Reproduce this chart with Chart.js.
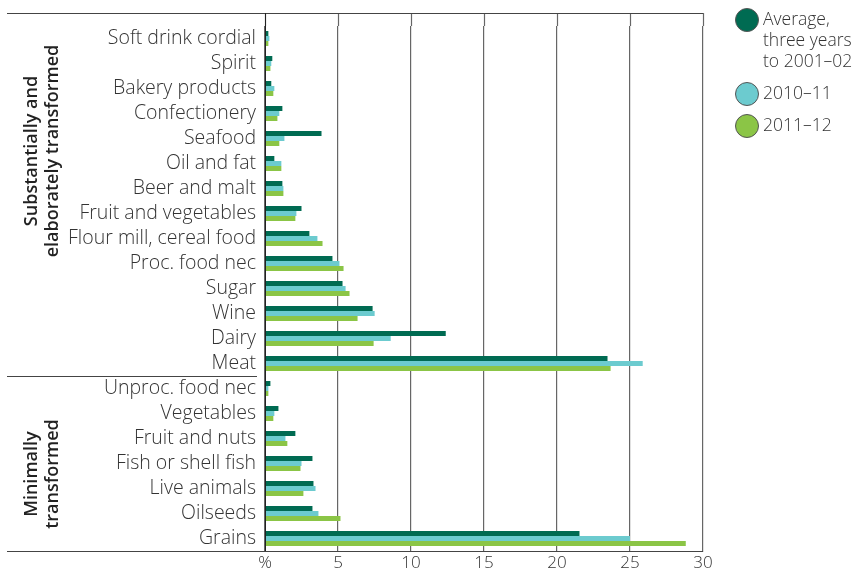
<!DOCTYPE html>
<html>
<head>
<meta charset="utf-8">
<script src="https://cdn.jsdelivr.net/npm/chart.js@4"></script>
<style>
	body { margin: 0; background: #fff; }
	#wrap { position: relative; width: 856px; height: 574px; }
	#legend { position: absolute; left: 735px; top: 8px; font-family: "Open Sans", sans-serif; font-weight: 300; font-size: 17.5px; color: #333; line-height: 21px; white-space: nowrap; }
	#legend .item { position: relative; padding-left: 28px; margin-bottom: 11px; }
	#legend .dot { position: absolute; left: 0; top: 0px; width: 24px; height: 24px; border-radius: 50%; border: 1px solid #555; box-sizing: border-box; }
</style>
</head>
<body>
<div id="wrap">
	<canvas id="chart" width="856" height="574"></canvas>
	<div id="legend"></div>
</div>
<script>
// 類別與數值
const categories = [
	"Soft drink cordial", "Spirit", "Bakery products", "Confectionery", "Seafood",
	"Oil and fat", "Beer and malt", "Fruit and vegetables", "Flour mill, cereal food",
	"Proc. food nec", "Sugar", "Wine", "Dairy", "Meat",
	"Unproc. food nec", "Vegetables", "Fruit and nuts", "Fish or shell fish",
	"Live animals", "Oilseeds", "Grains"
];
const avgThreeYears = [0.23, 0.5, 0.43, 1.19, 3.87, 0.64, 1.19, 2.5, 3.04, 4.62, 5.31, 7.37, 12.38, 23.46,
	0.37, 0.92, 2.08, 3.25, 3.32, 3.25, 21.54];
const y2010 = [0.3, 0.43, 0.64, 0.98, 1.33, 1.12, 1.26, 2.15, 3.59, 5.1, 5.52, 7.51, 8.61, 25.87,
	0.23, 0.64, 1.4, 2.5, 3.46, 3.66, 25.0];
const y2011 = [0.23, 0.37, 0.57, 0.85, 0.98, 1.12, 1.26, 2.08, 3.94, 5.38, 5.79, 6.34, 7.44, 23.67,
	0.23, 0.57, 1.53, 2.43, 2.63, 5.17, 28.82];
const seriesNames = [["Average,", "three years", "to 2001\u201302"], ["2010\u201311"], ["2011\u201312"]];
const seriesColors = ["#006b52", "#6ccbcf", "#8bc546"];
const groupLines = [["Substantially and", "elaborately transformed"], ["Minimally", "transformed"]];
const xTicks = [0, 5, 10, 15, 20, 25, 30];

const FONT = "'Open Sans', sans-serif";

// 圖例
const legendEl = document.getElementById("legend");
seriesNames.forEach((name, i) => {
	const d = document.createElement("div");
	d.className = "item";
	d.innerHTML = '<span class="dot" style="background:' + seriesColors[i] + '"></span>' + name.join("<br>");
	legendEl.appendChild(d);
});

// 額外線條與群組標籤
const decor = {
	id: "decor",
	beforeDatasetsDraw(chart) {
		const { ctx, chartArea, scales } = chart;
		ctx.save();
		ctx.strokeStyle = "#666";
		ctx.lineWidth = 1.2;
		xTicks.forEach((v) => {
			const px = Math.round(scales.x.getPixelForValue(v)) + 0.5;
			ctx.beginPath();
			ctx.moveTo(px, 13);
			ctx.lineTo(px, chartArea.top);
			ctx.stroke();
		});
		ctx.restore();
	},
	afterDraw(chart) {
		const { ctx, chartArea, scales } = chart;
		const y = scales.y;
		ctx.save();
		ctx.strokeStyle = "#444";
		ctx.lineWidth = 1;
		// 上緣線
		ctx.beginPath();
		ctx.moveTo(7, 13.5);
		ctx.lineTo(chartArea.right, 13.5);
		ctx.stroke();
		// 下緣線
		ctx.beginPath();
		ctx.moveTo(7, Math.round(chartArea.bottom) + 0.5);
		ctx.lineTo(chartArea.left, Math.round(chartArea.bottom) + 0.5);
		ctx.stroke();
		// 群組分隔線
		const sep = Math.round((y.getPixelForValue(13) + y.getPixelForValue(14)) / 2) + 0.5;
		ctx.beginPath();
		ctx.moveTo(7, sep);
		ctx.lineTo(257, sep);
		ctx.stroke();
		// 零線
		const x0 = Math.round(scales.x.getPixelForValue(0)) + 0.5;
		ctx.strokeStyle = "#222";
		ctx.beginPath();
		ctx.moveTo(x0, 13);
		ctx.lineTo(x0, chartArea.bottom);
		ctx.stroke();
		// 群組標籤（位置對齊原圖）
		const labelCenters = [
			(y.getPixelForValue(4) + y.getPixelForValue(5)) / 2,
			(y.getPixelForValue(17) + y.getPixelForValue(18)) / 2 - 2
		];
		ctx.fillStyle = "#222";
		ctx.font = "600 18px " + FONT;
		ctx.textAlign = "center";
		ctx.textBaseline = "middle";
		groupLines.forEach((lines, gi) => {
			lines.forEach((line, li) => {
				ctx.save();
				ctx.translate(32 + li * 21, labelCenters[gi]);
				ctx.rotate(-Math.PI / 2);
				ctx.fillText(line, 0, 0);
				ctx.restore();
			});
		});
		ctx.restore();
	}
};

const ctx1 = document.getElementById("chart");
const data1 = {
	labels: categories,
	datasets: [avgThreeYears, y2010, y2011].map((vals, i) => ({
		label: seriesNames[i].join(" "),
		data: vals,
		backgroundColor: seriesColors[i],
		borderWidth: 0,
		categoryPercentage: 0.6,
		barPercentage: 1
	}))
};
const config1 = {
	type: "bar",
	data: data1,
	options: {
		indexAxis: "y",
		responsive: false,
		animation: false,
		layout: { padding: { top: 26, right: 153, bottom: 0, left: 0 } },
		scales: {
			x: {
				min: 0,
				max: 30,
				afterBuildTicks: (axis) => { axis.ticks = xTicks.map((v) => ({ value: v })); },
				afterFit: (axis) => { axis.height = 23; },
				grid: { color: "#666", lineWidth: 1.2, drawTicks: false },
				border: { display: true, color: "#444", width: 1 },
				ticks: {
					padding: 2,
					color: "#333",
					font: { family: FONT, size: 17, weight: 300 },
					callback: (value) => value === 0 ? "%" : value
				}
			},
			y: {
				afterFit: (axis) => { axis.width = 265; },
				grid: { display: false, drawTicks: false },
				border: { display: false },
				ticks: {
					padding: 9,
					color: "#333",
					font: { family: FONT, size: 19.5, weight: 300 },
					autoSkip: false
				}
			}
		},
		plugins: {
			legend: { display: false },
			tooltip: { enabled: false }
		}
	},
	plugins: [decor]
};
const chart1 = new Chart(ctx1, config1);
</script>
</body>
</html>
